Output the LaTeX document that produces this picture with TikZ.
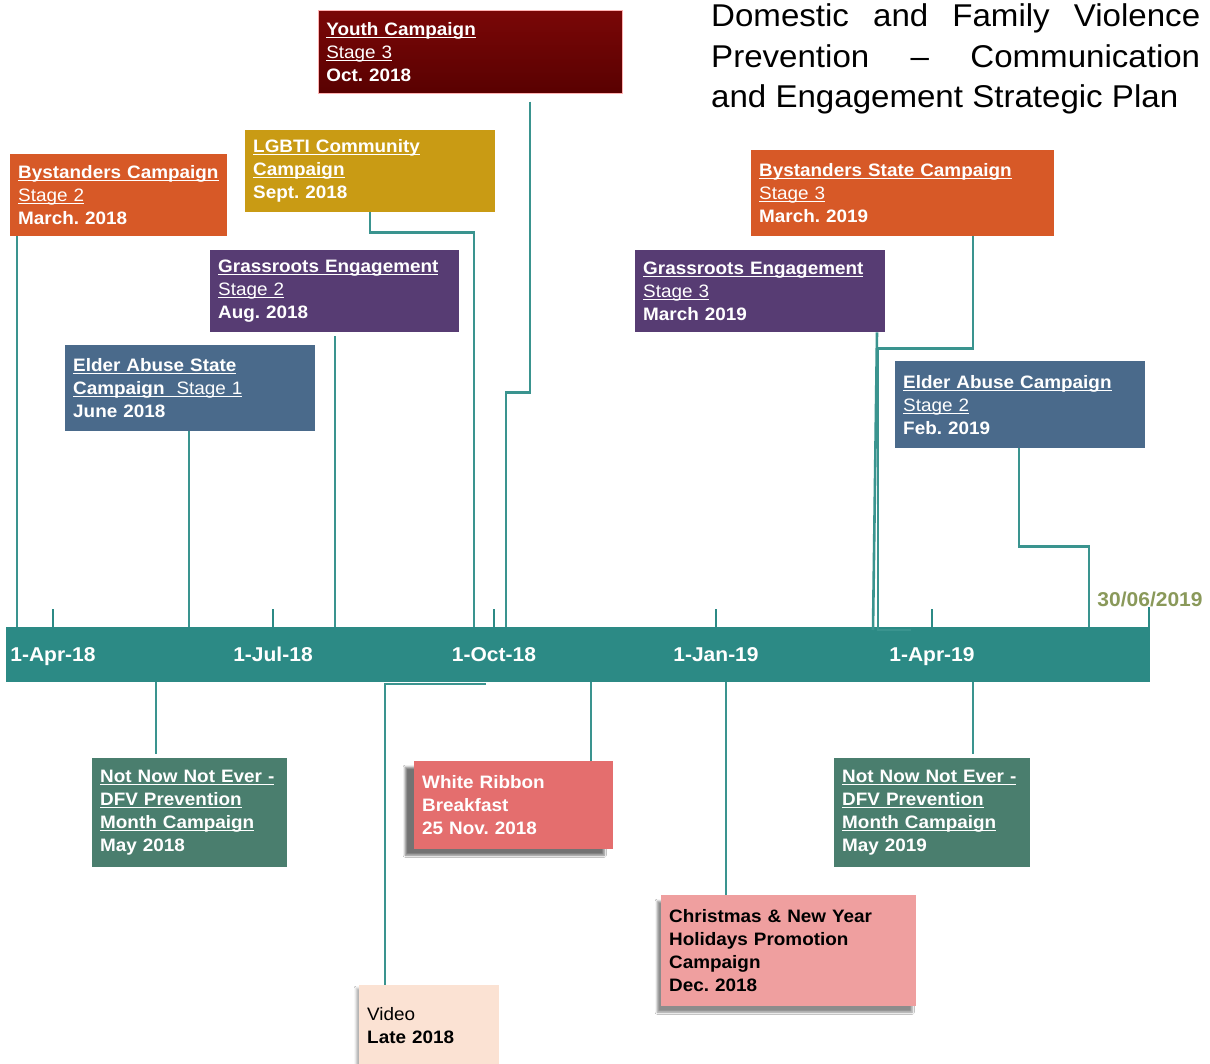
\documentclass[tikz,border=0pt]{standalone}
\usepackage{fontspec}
\setmainfont[FakeStretch=1.05]{Liberation Sans}
\usetikzlibrary{calc,shadows.blur}
\frenchspacing
\definecolor{tealc}{HTML}{2C8A85}
\definecolor{linec}{HTML}{3A948F}
\definecolor{orgc}{HTML}{D75927}
\definecolor{mustc}{HTML}{C99B14}
\definecolor{youthtop}{HTML}{7A0707}
\definecolor{youthbot}{HTML}{590101}
\definecolor{purpc}{HTML}{573C73}
\definecolor{bluec}{HTML}{4A6A8B}
\definecolor{greenc}{HTML}{4A7E6E}
\definecolor{wrc}{HTML}{E46E6E}
\definecolor{xmasc}{HTML}{EF9F9F}
\definecolor{videoc}{HTML}{FBE2D3}
\definecolor{olivec}{HTML}{8A995A}
\newcommand\ulx[1]{\leavevmode\setbox0\hbox{#1}\rlap{\rule[-2.6pt]{\wd0}{1.2pt}}\box0}
\newcommand\boxfont{\fontsize{18}{23}\selectfont\bfseries}
\tikzset{
  evbox/.style={rectangle, anchor=north west, inner xsep=8pt, inner ysep=0pt,
    align=left, font=\boxfont, text=white},
  conn/.style={draw=linec, line width=2.6pt},
  tick/.style={draw=tealc, line width=2.6pt},
  axlabel/.style={anchor=base, text=white, font=\fontsize{20}{24}\selectfont\bfseries, inner sep=0pt},
  titleline/.style={anchor=base west, inner sep=0pt, font=\fontsize{31.5}{41}\selectfont},
  shad/.style={blur shadow={shadow xshift=-9pt, shadow yshift=-6pt, shadow blur steps=6, shadow opacity=55}}
}
\begin{document}
\begin{tikzpicture}[x=1pt,y=-1pt]
\useasboundingbox[fill=white] (0,0) rectangle (1210,1064);

% timeline bar
\node[rectangle, fill=tealc, anchor=north west, minimum width=1144pt, minimum height=55pt, inner sep=0pt] (bar) at (6,627) {};

% title
\node[titleline] (t1) at (711,27) {\hbox to 489pt{Domestic\hfill and\hfill Family\hfill Violence}};
\node[titleline] (t2) at (711,68) {\hbox to 489pt{Prevention\hfill --\hfill Communication}};
\node[titleline] (t3) at (711,108) {and Engagement Strategic Plan};

% upper boxes
\node[evbox, fill=orgc, text width=201pt, minimum height=82pt] (bys2) at (10,154)
  {\ulx{Bystanders Campaign}\\\ulx{\mdseries Stage 2}\\March. 2018};
\node[evbox, fill=mustc, text width=234pt, minimum height=82pt] (lgbti) at (245,130)
  {\ulx{LGBTI Community}\\\ulx{Campaign}\\Sept. 2018};
\node[evbox, top color=youthtop, bottom color=youthbot, draw=red!30!white, line width=0.6pt, text width=288pt, minimum height=83pt] (youth) at (318,10)
  {\ulx{Youth Campaign}\\\ulx{\mdseries Stage 3}\\Oct. 2018};
\node[evbox, fill=purpc, text width=233pt, minimum height=82pt] (gr2) at (210,250)
  {\ulx{Grassroots Engagement}\\\ulx{\mdseries Stage 2}\\Aug. 2018};
\node[evbox, fill=bluec, text width=234pt, minimum height=86pt] (eld1) at (65,345)
  {\ulx{Elder Abuse State}\\\ulx{Campaign\ \ \mdseries Stage 1}\\June 2018};
\node[evbox, fill=orgc, text width=287pt, minimum height=86pt] (bys3) at (751,150)
  {\ulx{Bystanders State Campaign}\\\ulx{\mdseries Stage 3}\\March. 2019};
\node[evbox, fill=purpc, text width=234pt, minimum height=82pt] (gr3) at (635,250)
  {\ulx{Grassroots Engagement}\\\ulx{\mdseries Stage 3}\\March 2019};
\node[evbox, fill=bluec, text width=234pt, minimum height=87pt] (eld2) at (895,361)
  {\ulx{Elder Abuse Campaign}\\\ulx{\mdseries Stage 2}\\Feb. 2019};

% lower boxes
\node[evbox, fill=greenc, text width=179pt, minimum height=109pt] (nn18) at (92,758)
  {\ulx{Not Now Not Ever -}\\\ulx{DFV Prevention}\\\ulx{Month Campaign}\\May 2018};
\node[evbox, fill=wrc, shad, text width=183pt, minimum height=88pt] (wr) at (414,761)
  {White Ribbon\\Breakfast\\25 Nov. 2018};
\node[evbox, fill=xmasc, text=black, blur shadow={shadow xshift=-4pt, shadow yshift=-6pt, shadow blur steps=5, shadow opacity=45}, text width=239pt, minimum height=111pt] (xmas) at (661,895)
  {Christmas \& New Year\\Holidays Promotion\\Campaign\\Dec. 2018};
\node[evbox, fill=greenc, text width=180pt, minimum height=109pt] (nn19) at (834,758)
  {\ulx{Not Now Not Ever -}\\\ulx{DFV Prevention}\\\ulx{Month Campaign}\\May 2019};
\node[evbox, fill=videoc, text=black, blur shadow={shadow xshift=-3pt, shadow yshift=-3pt, shadow blur steps=4, shadow opacity=30}, text width=124pt, minimum height=80pt, anchor=north west] (video) at (359,985)
  {{\mdseries Video}\\Late 2018};

% axis labels and ticks
\foreach \x/\lab [count=\i] in {53/1-Apr-18, 273/1-Jul-18, 494/1-Oct-18, 716/1-Jan-19, 932/1-Apr-19}{
  \node[axlabel] (lab\i) at (\x,661) {\lab};
  \coordinate (tk\i) at (\x,609);
  \draw[tick] (tk\i) -- (tk\i |- bar.north);
}
\coordinate (endtop) at (1149,607);
\draw[tick] (endtop) -- (endtop |- bar.north);
\node[anchor=base, text=olivec, font=\fontsize{20}{24}\selectfont\bfseries, inner sep=0pt] (enddate) at (1150,606) {30/06/2019};

% upper connectors
\draw[conn] ([xshift=7pt]bys2.south west) -- ([xshift=7pt]bys2.south west |- bar.north);
\draw[conn] ([xshift=125pt]lgbti.south west) -- ++(0,20) -| ([xshift=229pt]lgbti.south west |- bar.north);
\draw[conn] ([xshift=212pt,yshift=-8pt]youth.south west) -- ++(0,291) -| ([xshift=188pt]youth.south west |- bar.north);
\draw[conn] ([xshift=125pt,yshift=-4pt]gr2.south west) -- ([xshift=125pt]gr2.south west |- bar.north);
\draw[conn] ([xshift=124pt]eld1.south west) -- ([xshift=124pt]eld1.south west |- bar.north);
\draw[conn] ([xshift=242pt]gr3.south west) -- ([xshift=238pt,yshift=-3pt]gr3.south west |- bar.north);
\draw[conn] ([xshift=222pt]bys3.south west) -- ++(0,112) -| ([xshift=127pt,yshift=-3pt]bys3.south west |- bar.north) -- ++(33,0);
\draw[conn] ([xshift=124pt]eld2.south west) -- ++(0,98) -| ([xshift=194pt]eld2.south west |- bar.north);

% lower connectors
\draw[conn] ([xshift=64pt]nn18.north west |- bar.south) -- ([xshift=64pt,yshift=4pt]nn18.north west);
\draw[conn] ([xshift=177pt]wr.north west |- bar.south) -- ([xshift=177pt]wr.north west);
\draw[conn] ([xshift=65pt]xmas.north west |- bar.south) -- ([xshift=65pt]xmas.north west);
\draw[conn] ([xshift=139pt]nn19.north west |- bar.south) -- ([xshift=139pt,yshift=4pt]nn19.north west);
\draw[conn, line width=2pt] ([xshift=127pt,yshift=-2pt]video.north west |- bar.south) -| ([xshift=26pt]video.north west);
\end{tikzpicture}
\end{document}
